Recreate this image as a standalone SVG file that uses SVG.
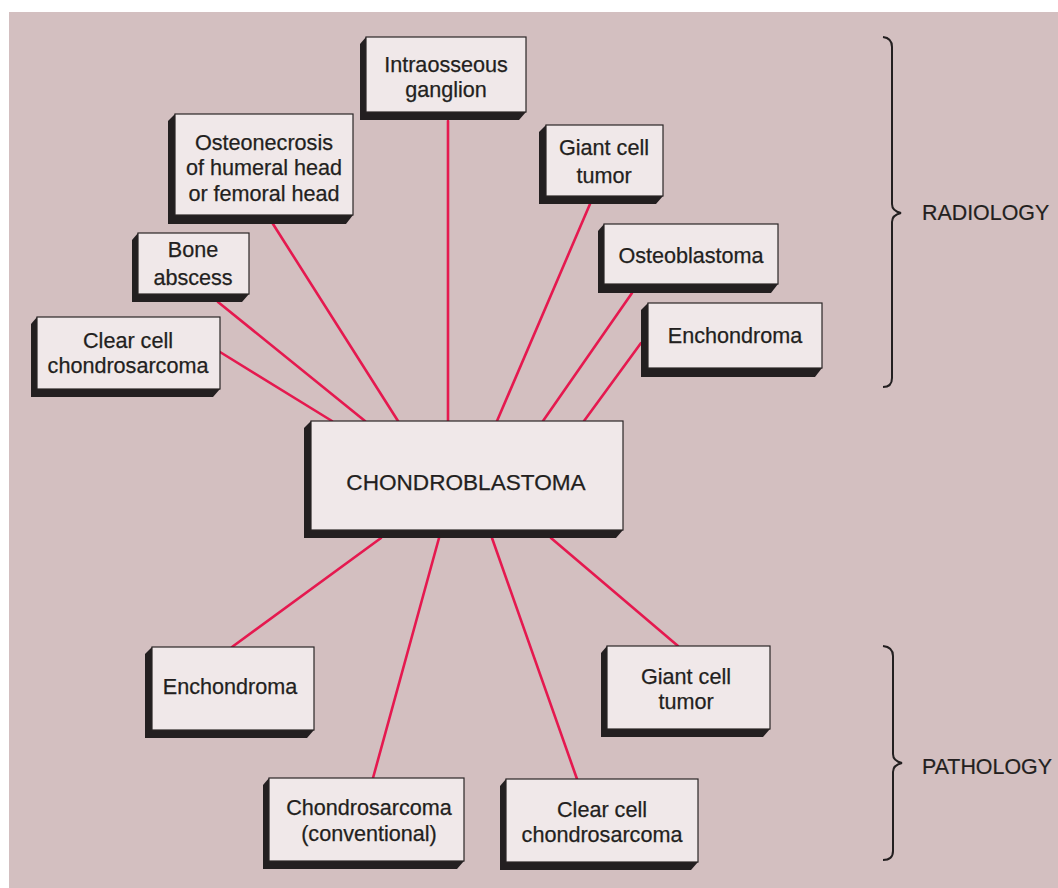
<svg xmlns="http://www.w3.org/2000/svg" width="1058" height="888" viewBox="0 0 1058 888">
  <style>
    .bg { fill: #d3bfc0; }
    .face { fill: #f0e8e9; stroke: #2a2526; stroke-width: 1.2; }
    .shadow { fill: #231f20; }
    .lbl { font-family: "Liberation Sans", Arial, sans-serif; font-size: 21.6px; fill: #231f20; text-anchor: middle; stroke: #231f20; stroke-width: 0.25; }
    .main { font-size: 22.6px; }
    .side { font-family: "Liberation Sans", Arial, sans-serif; font-size: 21.4px; fill: #231f20; stroke: #231f20; stroke-width: 0.2; }
    .link { stroke: #e5194f; stroke-width: 2.6; fill: none; stroke-linecap: round; }
    .brace { stroke: #231f20; stroke-width: 2; fill: none; }
  </style>

  <rect x="0" y="0" width="1058" height="888" fill="#ffffff"/>
  <rect class="bg" x="9" y="12" width="1049" height="876"/>

  <!-- connectors -->
  <g id="connectors">
    <line class="link" x1="220" y1="352" x2="332" y2="421"/>
    <line class="link" x1="218" y1="302" x2="365" y2="421"/>
    <line class="link" x1="273" y1="224" x2="398" y2="421"/>
    <line class="link" x1="448" y1="121" x2="448" y2="421"/>
    <line class="link" x1="590" y1="204" x2="497" y2="421"/>
    <line class="link" x1="632" y1="293" x2="543" y2="421"/>
    <line class="link" x1="641" y1="343" x2="584" y2="421"/>
    <line class="link" x1="381" y1="538" x2="232" y2="647"/>
    <line class="link" x1="439" y1="538" x2="373" y2="778"/>
    <line class="link" x1="492" y1="538" x2="577" y2="779"/>
    <line class="link" x1="551" y1="538" x2="678" y2="646"/>
  </g>

  <!-- central node -->
  <g id="chondroblastoma">
    <polygon class="shadow" points="311,421 304,428 304,538 616,538 623,530"/>
    <rect class="face" x="311" y="421" width="312" height="109"/>
    <text class="lbl main" x="466" y="490">CHONDROBLASTOMA</text>
  </g>

  <!-- radiology differentials -->
  <g id="intraosseous-ganglion">
    <polygon class="shadow" points="366,37 360,44 360,120 519,120 526,112"/>
    <rect class="face" x="366" y="37" width="160" height="75"/>
    <text class="lbl" x="446" y="72">Intraosseous</text>
    <text class="lbl" x="446" y="97">ganglion</text>
  </g>

  <g id="osteonecrosis">
    <polygon class="shadow" points="175,114 168,121 168,224 346,224 353,215"/>
    <rect class="face" x="175" y="114" width="178" height="101"/>
    <text class="lbl" x="264" y="150">Osteonecrosis</text>
    <text class="lbl" x="264" y="175">of humeral head</text>
    <text class="lbl" x="264" y="201">or femoral head</text>
  </g>

  <g id="bone-abscess">
    <polygon class="shadow" points="138,233 132,240 132,302 242,302 249,294"/>
    <rect class="face" x="138" y="233" width="111" height="61"/>
    <text class="lbl" x="193" y="257">Bone</text>
    <text class="lbl" x="193" y="285">abscess</text>
  </g>

  <g id="clear-cell-radiology">
    <polygon class="shadow" points="37,317 31,324 31,397 213,397 220,389"/>
    <rect class="face" x="37" y="317" width="183" height="72"/>
    <text class="lbl" x="128" y="348">Clear cell</text>
    <text class="lbl" x="128" y="373">chondrosarcoma</text>
  </g>

  <g id="giant-cell-radiology">
    <polygon class="shadow" points="546,125 539,132 539,204 656,204 663,196"/>
    <rect class="face" x="546" y="125" width="117" height="71"/>
    <text class="lbl" x="604" y="155">Giant cell</text>
    <text class="lbl" x="604" y="183">tumor</text>
  </g>

  <g id="osteoblastoma">
    <polygon class="shadow" points="604,224 598,231 598,293 771,293 778,284"/>
    <rect class="face" x="604" y="224" width="174" height="60"/>
    <text class="lbl" x="691" y="263">Osteoblastoma</text>
  </g>

  <g id="enchondroma-radiology">
    <polygon class="shadow" points="648,303 641,310 641,377 815,377 822,368"/>
    <rect class="face" x="648" y="303" width="174" height="65"/>
    <text class="lbl" x="735" y="343">Enchondroma</text>
  </g>

  <!-- pathology differentials -->
  <g id="enchondroma-pathology">
    <polygon class="shadow" points="152,647 145,654 145,738 307,738 314,730"/>
    <rect class="face" x="152" y="647" width="162" height="83"/>
    <text class="lbl" x="230" y="694">Enchondroma</text>
  </g>

  <g id="chondrosarcoma-conventional">
    <polygon class="shadow" points="269,778 263,785 263,869 457,869 464,861"/>
    <rect class="face" x="269" y="778" width="195" height="83"/>
    <text class="lbl" x="369" y="815">Chondrosarcoma</text>
    <text class="lbl" x="369" y="841">(conventional)</text>
  </g>

  <g id="giant-cell-pathology">
    <polygon class="shadow" points="607,646 601,653 601,737 763,737 770,729"/>
    <rect class="face" x="607" y="646" width="163" height="83"/>
    <text class="lbl" x="686" y="684">Giant cell</text>
    <text class="lbl" x="686" y="709">tumor</text>
  </g>

  <g id="clear-cell-pathology">
    <polygon class="shadow" points="506,779 500,786 500,870 691,870 698,862"/>
    <rect class="face" x="506" y="779" width="192" height="83"/>
    <text class="lbl" x="602" y="817">Clear cell</text>
    <text class="lbl" x="602" y="842">chondrosarcoma</text>
  </g>

  <!-- group braces -->
  <g id="radiology">
    <path class="brace" d="M883,37 Q892,38 892,47 L892,204 Q892,211 901,213 Q892,215 892,222 L892,378 Q892,387 883,387"/>
    <text class="side" x="922" y="220">RADIOLOGY</text>
  </g>

  <g id="pathology">
    <path class="brace" d="M883,646 Q893,647 893,656 L893,754 Q893,761 902,763 Q893,765 893,772 L893,851 Q893,860 883,860"/>
    <text class="side" x="922" y="774">PATHOLOGY</text>
  </g>
</svg>
